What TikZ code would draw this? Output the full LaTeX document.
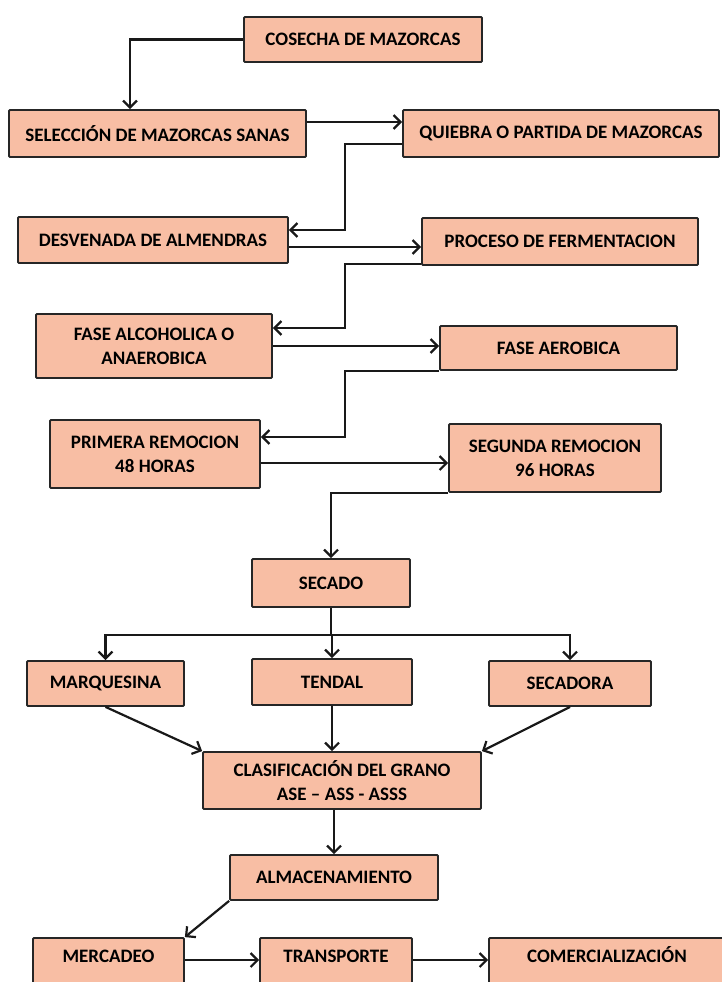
\documentclass[tikz,border=0pt]{standalone}
\usepackage{fontspec}
\setmainfont{Carlito}
\usepackage{tikz}
\usetikzlibrary{arrows.meta, positioning}
\definecolor{durazno}{RGB}{248,190,164}

\begin{document}
\begin{tikzpicture}[
  x=1pt, y=-1pt,
  every node/.style={align=center},
  caja/.style={draw=black!85, line width=1.8pt, fill=durazno, rounded corners=1pt,
    inner sep=2pt, font=\bfseries\fontsize{19}{24}\selectfont},
  flecha/.style={-{Straight Barb[length=7pt,width=14pt]}, line width=2.2pt, black!90}
]
  \useasboundingbox (0,0) rectangle (722,982);
  \clip (0,0) rectangle (722,982);

  % Cosecha y fermentacion
  \node[caja, minimum width=238pt, minimum height=45pt] (cosecha) at (363,39.5) {COSECHA DE MAZORCAS};
  \node[caja, minimum width=297pt, minimum height=47pt] (seleccion) at (157.5,133.5) {SELECCIÓN DE MAZORCAS SANAS};
  \node[caja, minimum width=316pt, minimum height=47pt] (quiebra) at (561,133.5) {QUIEBRA O PARTIDA DE MAZORCAS};
  \node[caja, minimum width=270pt, minimum height=46pt] (desvenada) at (153,240) {DESVENADA DE ALMENDRAS};
  \node[caja, minimum width=276pt, minimum height=47pt] (proceso) at (560,241.5) {PROCESO DE FERMENTACION};
  \node[caja, minimum width=236pt, minimum height=64pt] (alcoholica) at (154,346) {FASE ALCOHOLICA O\\ANAEROBICA};
  \node[caja, minimum width=237pt, minimum height=44pt] (aerobica) at (558.5,348) {FASE AEROBICA};
  \node[caja, minimum width=210pt, minimum height=68pt] (primera) at (155,454) {PRIMERA REMOCION\\48 HORAS};
  \node[caja, minimum width=212pt, minimum height=68pt] (segunda) at (555,458) {SEGUNDA REMOCION\\96 HORAS};

  % Secado
  \node[caja, minimum width=158pt, minimum height=48pt] (secado) at (331,583) {SECADO};
  \node[caja, minimum width=157pt, minimum height=45pt] (marquesina) at (105.5,683.5) {MARQUESINA};
  \node[caja, minimum width=160pt, minimum height=46pt] (tendal) at (332,682) {TENDAL};
  \node[caja, minimum width=162pt, minimum height=45pt] (secadora) at (570,683.5) {SECADORA};

  % Clasificacion y venta
  \node[caja, minimum width=278pt, minimum height=57pt] (clasificacion) at (342,780.5) {CLASIFICACIÓN DEL GRANO\\ASE -- ASS - ASSS};
  \node[caja, minimum width=208pt, minimum height=45pt] (almacenamiento) at (334,877.5) {ALMACENAMIENTO};
  \node[caja, minimum width=151pt, minimum height=48pt, text height=14pt, text depth=14pt] (mercadeo) at (108.5,962) {MERCADEO};
  \node[caja, minimum width=152pt, minimum height=48pt, text height=14pt, text depth=14pt] (transporte) at (336,962) {TRANSPORTE};
  \node[caja, minimum width=236pt, minimum height=48pt, text height=14pt, text depth=14pt] (comercializacion) at (607,962) {COMERCIALIZACIÓN};

  % Arrows
  \draw[flecha] (cosecha.west) -| ([xshift=-27.5pt]seleccion.north);
  \draw[flecha] ([yshift=11.5pt]seleccion.east) -- ([yshift=11.5pt]quiebra.west);
  \draw[flecha] ([yshift=-10.5pt]quiebra.west) -- ++(-57,0) |- ([yshift=10pt]desvenada.east);
  \draw[flecha] ([yshift=-7pt]desvenada.east) -- ([yshift=-5.5pt]proceso.west);
  \draw[flecha] ([yshift=2pt]proceso.south west) -- ++(-76,0) |- ([yshift=18pt]alcoholica.east);
  \draw[flecha] (alcoholica.east) -- (alcoholica.east -| aerobica.west);
  \draw[flecha] (aerobica.south west) -- ++(-94,0) |- ([yshift=17pt]primera.east);
  \draw[flecha] ([yshift=-9pt]primera.east) -- ([yshift=-5pt]segunda.west);
  \draw[flecha] (segunda.south west) -| (secado.north);

  % Ramas del secado
  \draw[line width=2.2pt, black!90] (secado.south) -- ++(0,27) coordinate (rama);
  \draw[flecha] (rama) -| (marquesina.north);
  \draw[flecha] (rama -| tendal.north) -- (tendal.north);
  \draw[flecha] (rama) -| (secadora.north);

  \draw[flecha] (marquesina.south) -- (clasificacion.north west);
  \draw[flecha] (tendal.south) -- (tendal.south |- clasificacion.north);
  \draw[flecha] (secadora.south) -- (clasificacion.north east);
  \draw[flecha] (almacenamiento.north |- clasificacion.south) -- (almacenamiento.north);
  \draw[flecha] (almacenamiento.south west) -- (mercadeo.north east);
  \draw[flecha] ([yshift=2pt]mercadeo.east) -- ([yshift=2pt]transporte.west);
  \draw[flecha] ([yshift=2pt]transporte.east) -- ([yshift=2pt]comercializacion.west);
\end{tikzpicture}
\end{document}
